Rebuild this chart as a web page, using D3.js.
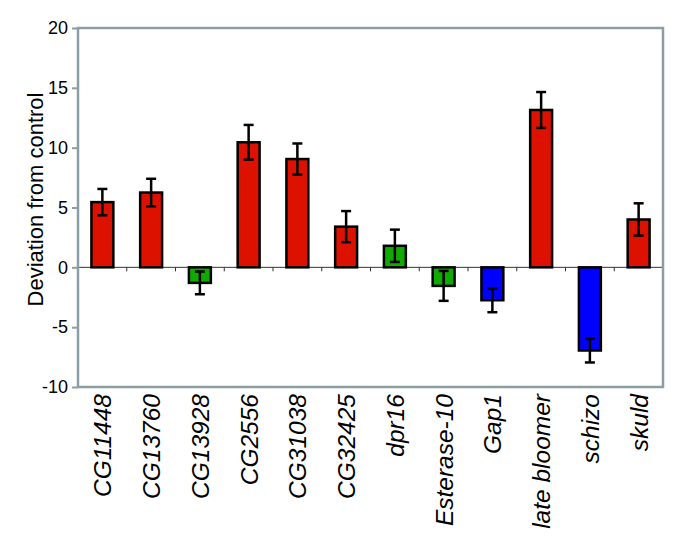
<!DOCTYPE html>
<html>
<head>
<meta charset="utf-8">
<script src="https://cdn.jsdelivr.net/npm/d3@7"></script>
<style>
  body { margin: 0; background: #fff; }
  text { font-family: "Liberation Sans", Arial, sans-serif; }
</style>
</head>
<body>
<div id="chart"></div>
<script>
const genes = ["CG11448", "CG13760", "CG13928", "CG2556", "CG31038", "CG32425",
    "dpr16", "Esterase-10", "Gap1", "late bloomer", "schizo", "skuld"];
const deviation = [5.45, 6.25, -1.3, 10.45, 9.05, 3.4, 1.8, -1.55, -2.75, 13.15, -6.95, 4.0];
const errors = [1.1, 1.15, 0.95, 1.45, 1.3, 1.3, 1.35, 1.25, 1.0, 1.5, 1.0, 1.35];
const groups = ["up", "up", "mid", "up", "up", "up", "mid", "mid", "down", "up", "down", "up"];
const yTicks = [-10, -5, 0, 5, 10, 15, 20];

const width = 685, height = 538;
const margin = {top: 28, right: 22, bottom: 151, left: 78};

const svg = d3.select("#chart")
  .append("svg")
  .attr("width", width)
  .attr("height", height);

const x = d3.scaleBand()
  .domain(genes)
  .range([margin.left, width - margin.right])
  .paddingInner(0.55)
  .paddingOuter(0.275);

const y = d3.scaleLinear()
  .domain([-10, 20])
  .range([height - margin.bottom, margin.top]);

const color = d3.scaleOrdinal()
  .domain(["up", "mid", "down"])
  .range(["#dd1100", "#11aa00", "#0000ff"]);

// left axis with outward ticks
svg.append("g")
  .attr("transform", `translate(${margin.left},0)`)
  .call(d3.axisLeft(y).tickValues(yTicks).tickFormat(d => String(d)).tickSize(6).tickPadding(4))
  .call(g => g.select(".domain").remove())
  .call(g => g.selectAll(".tick line").attr("stroke", "#8a9ea3").attr("stroke-width", 2))
  .call(g => g.selectAll(".tick text").attr("font-size", 18).attr("fill", "#000"));

// zero line with small ticks between categories
const bounds = genes.map(d => x(d) - x.step() * x.paddingInner() / 2).slice(1);
bounds.push(width - margin.right);
svg.append("line")
  .attr("x1", margin.left).attr("x2", width - margin.right)
  .attr("y1", y(0)).attr("y2", y(0))
  .attr("stroke", "#333").attr("stroke-width", 1);
svg.selectAll(".zt")
  .data(bounds)
  .enter().append("line")
  .attr("x1", d => d).attr("x2", d => d)
  .attr("y1", y(0)).attr("y2", y(0) + 4)
  .attr("stroke", "#333").attr("stroke-width", 1);

// bars
svg.selectAll(".bar")
  .data(genes)
  .enter().append("rect")
  .attr("class", "bar")
  .attr("x", d => x(d))
  .attr("width", x.bandwidth())
  .attr("y", (d, i) => y(Math.max(0, deviation[i])))
  .attr("height", (d, i) => Math.abs(y(deviation[i]) - y(0)))
  .attr("fill", (d, i) => color(groups[i]))
  .attr("stroke", "#000")
  .attr("stroke-width", 2.5);

// error bars
const err = svg.selectAll(".err")
  .data(genes)
  .enter().append("g")
  .attr("stroke", "#000")
  .attr("stroke-width", 2.5);
const cx = d => x(d) + x.bandwidth() / 2;
err.append("line")
  .attr("x1", cx).attr("x2", cx)
  .attr("y1", (d, i) => y(deviation[i] + errors[i]))
  .attr("y2", (d, i) => y(deviation[i] - errors[i]));
err.append("line")
  .attr("x1", d => cx(d) - 5).attr("x2", d => cx(d) + 5)
  .attr("y1", (d, i) => y(deviation[i] + errors[i]))
  .attr("y2", (d, i) => y(deviation[i] + errors[i]));
err.append("line")
  .attr("x1", d => cx(d) - 5).attr("x2", d => cx(d) + 5)
  .attr("y1", (d, i) => y(deviation[i] - errors[i]))
  .attr("y2", (d, i) => y(deviation[i] - errors[i]));

// frame
svg.append("rect")
  .attr("x", margin.left).attr("y", margin.top)
  .attr("width", width - margin.left - margin.right)
  .attr("height", height - margin.top - margin.bottom)
  .attr("fill", "none")
  .attr("stroke", "#8a9ea3")
  .attr("stroke-width", 2.5);

// category labels
svg.selectAll(".lab")
  .data(genes)
  .enter().append("text")
  .attr("transform", d => `translate(${cx(d) + 9},${height - margin.bottom + 7}) rotate(-90)`)
  .attr("text-anchor", "end")
  .attr("font-size", 24.5)
  .attr("font-style", "italic")
  .text(d => d);

// y title
svg.append("text")
  .attr("transform", `translate(43,${(y(20) + y(-10)) / 2 - 8}) rotate(-90)`)
  .attr("text-anchor", "middle")
  .attr("font-size", 22)
  .text("Deviation from control");
</script>
</body>
</html>
